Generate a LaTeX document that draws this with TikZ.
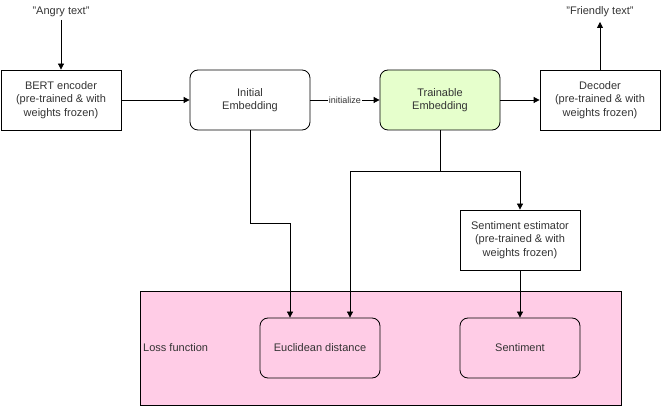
\documentclass[tikz,border=0pt]{standalone}
\usepackage{fontspec}
\setmainfont{Liberation Sans}
\usetikzlibrary{arrows.meta}
\definecolor{lgreen}{HTML}{E6FFCC}
\definecolor{lpink}{HTML}{FFCCE6}
\definecolor{txt}{HTML}{333333}
\begin{document}
\begin{tikzpicture}[x=1pt,y=-1pt,
  box/.style={draw=black, line width=0.8pt, minimum width=120pt, minimum height=60pt, align=center, inner sep=0pt, text=txt, font=\fontsize{11}{13.5}\selectfont},
  rbox/.style={box, rounded corners=8pt},
  lbl/.style={inner sep=0pt, text=txt, font=\fontsize{11}{13.5}\selectfont},
  conn/.style={draw=black, line width=0.8pt, -{Triangle[length=6pt,width=6pt]}}]
\useasboundingbox (0,0) rectangle (662,406);
\node[draw=black, line width=0.8pt, fill=lpink, minimum width=481pt, minimum height=114pt, inner sep=0pt] (loss) at (380.5,348) {};
\node[lbl, anchor=west] (losslbl) at (143,348) {Loss function};
\node[lbl] (angry) at (61,12) {"Angry text"};
\node[lbl] (friendly) at (600,12) {"Friendly text"};
\node[box] (bert) at (61,100) {BERT encoder\\(pre-trained \& with\\weights frozen)};
\node[rbox] (init) at (250,100) {Initial\\Embedding};
\node[rbox, fill=lgreen] (train) at (440,100) {Trainable\\Embedding};
\node[box] (dec) at (600,100) {Decoder\\(pre-trained \& with\\weights frozen)};
\node[box] (sent) at (520,240) {Sentiment estimator\\(pre-trained \& with\\weights frozen)};
\node[rbox, fill=lpink] (eucl) at (320,348) {Euclidean distance};
\node[rbox, fill=lpink] (sentl) at (520,348) {Sentiment};
\coordinate (split) at (440,171);
\draw[conn] (angry.south |- 0,20) -- (bert.north);
\draw[conn] (bert) -- (init);
\draw[conn] (init) -- node[fill=white, inner sep=1pt, text=txt, font=\fontsize{9}{11}\selectfont] {initialize} (train);
\draw[conn] (train) -- (dec);
\draw[conn] (dec.north) -- (600,22);
\draw[conn] (init.south) -- (250,223) -- (290,223) -- (eucl.north -| 290,0);
\draw[draw=black, line width=0.8pt] (train.south) -- (split);
\draw[conn] (split) -- (350,171) -- (eucl.north -| 350,0);
\draw[conn] (split) -- (520,171) -- (sent.north);
\draw[conn] (sent) -- (sentl);
\end{tikzpicture}
\end{document}
